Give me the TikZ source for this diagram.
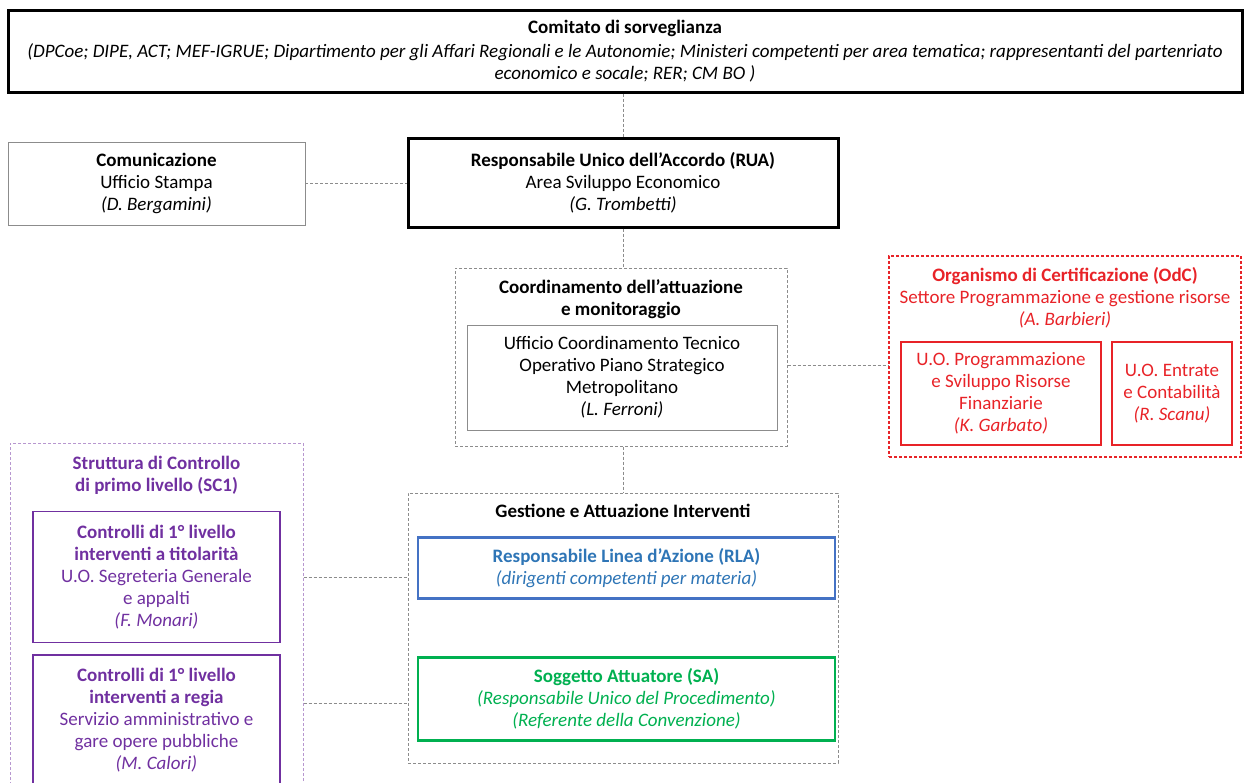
\documentclass[tikz,border=0pt]{standalone}
\usepackage{fontspec}
\setmainfont{Carlito}
\definecolor{odcred}{RGB}{232,35,40}
\definecolor{scpurple}{RGB}{112,48,160}
\definecolor{rlablue}{RGB}{68,114,196}
\definecolor{rlatext}{RGB}{46,117,182}
\definecolor{sagreen}{RGB}{0,176,80}
\definecolor{linkgray}{RGB}{140,140,140}

\begin{document}
\begin{tikzpicture}[x=1pt, y=-1pt,
        box/.style={draw, align=center, inner sep=0pt, font=\fontsize{19}{22}\selectfont},
        thickbox/.style={box, line width=3pt},
        thinbox/.style={box, draw=linkgray, line width=0.8pt},
        dashbox/.style={box, draw=linkgray, line width=1pt, dash pattern=on 3pt off 2pt},
        heading/.style={align=center, inner sep=0pt, font=\fontsize{19}{22}\selectfont},
        link/.style={draw=linkgray, line width=1pt, dash pattern=on 3pt off 2pt}
    ]
    \useasboundingbox (0,0) rectangle (1245,782);
    \clip (0,0) rectangle (1245,782);

    % Comitato di sorveglianza
    \node[thickbox, minimum width=1234pt, minimum height=82pt] (comitato) at (625,51)
        {\textbf{Comitato di sorveglianza}\\[2pt]
         \textit{(DPCoe; DIPE, ACT; MEF-IGRUE; Dipartimento per gli Affari Regionali e le Autonomie; Ministeri competenti per area tematica; rappresentanti del partenriato}\\
         \textit{economico e socale; RER; CM BO )}};

    % RUA and Comunicazione
    \node[thickbox, minimum width=430pt, minimum height=89pt] (rua) at (623,182.5)
        {\textbf{Responsabile Unico dell'Accordo (RUA)}\\Area Sviluppo Economico\\\textit{(G. Trombetti)}};
    \node[thinbox, minimum width=297pt, minimum height=83pt] (comunicazione) at (156.5,183.5)
        {\textbf{Comunicazione}\\Ufficio Stampa\\\textit{(D. Bergamini)}};

    % Coordinamento
    \node[dashbox, minimum width=332pt, minimum height=178pt] (coord) at (621,357) {};
    \node[heading] (coordtitle) at (621,299)
        {\textbf{Coordinamento dell'attuazione}\\\textbf{e monitoraggio}};
    \node[thinbox, minimum width=310pt, minimum height=105pt] (coordint) at (622,377.5)
        {Ufficio Coordinamento Tecnico\\Operativo Piano Strategico\\Metropolitano\\\textit{(L. Ferroni)}};

    % Organismo di Certificazione
    \node[dashbox, draw=odcred, line width=1.3pt, minimum width=352pt, minimum height=201pt] (odc) at (1065,356.5) {};
    \node[heading, text=odcred] (odctitle) at (1065,298)
        {\textbf{Organismo di Certificazione (OdC)}\\Settore Programmazione e gestione risorse\\\textit{(A. Barbieri)}};
    \node[box, draw=odcred, text=odcred, line width=1.2pt, minimum width=200pt, minimum height=103pt] (odcprog) at (1001,393.5)
        {U.O. Programmazione\\e Sviluppo Risorse\\Finanziarie\\\textit{(K. Garbato)}};
    \node[box, draw=odcred, text=odcred, line width=1.2pt, minimum width=120pt, minimum height=103pt] (odcentr) at (1172,393.5)
        {U.O. Entrate\\e Contabilità\\\textit{(R. Scanu)}};

    % Gestione e Attuazione Interventi
    \node[dashbox, minimum width=430pt, minimum height=270pt] (gestione) at (623,628) {};
    \node[heading] (gesttitle) at (623,511) {\textbf{Gestione e Attuazione Interventi}};
    \node[box, draw=rlablue, text=rlatext, line width=2.5pt, minimum width=417pt, minimum height=61pt] (rla) at (626.5,568)
        {\textbf{Responsabile Linea d'Azione (RLA)}\\\textit{(dirigenti competenti per materia)}};
    \node[box, draw=sagreen, text=sagreen, line width=2.5pt, minimum width=417pt, minimum height=83pt] (sa) at (626.5,699)
        {\textbf{Soggetto Attuatore (SA)}\\\textit{(Responsabile Unico del Procedimento)}\\\textit{(Referente della Convenzione)}};

    % Struttura di Controllo
    \node[dashbox, draw=scpurple!50, minimum width=293pt, minimum height=350pt] (sc1) at (156.5,618) {};
    \node[heading, text=scpurple] (sctitle) at (156.5,475)
        {\textbf{Struttura di Controllo}\\\textbf{di primo livello (SC1)}};
    \node[box, draw=scpurple, text=scpurple, line width=1.5pt, minimum width=247pt, minimum height=131pt] (sctit) at (156.5,577)
        {\textbf{Controlli di 1° livello}\\\textbf{interventi a titolarità}\\U.O. Segreteria Generale\\e appalti\\\textit{(F. Monari)}};
    \node[box, draw=scpurple, text=scpurple, line width=1.5pt, minimum width=247pt, minimum height=130pt] (screg) at (156.5,720)
        {\textbf{Controlli di 1° livello}\\\textbf{interventi a regia}\\Servizio amministrativo e\\gare opere pubbliche\\\textit{(M. Calori)}};

    % Connections
    \coordinate (odclink) at (0,365);
    \coordinate (reglink) at (0,703);
    \draw[link] (comitato.south -| rua.north) -- (rua.north);
    \draw[link] (comunicazione.east) -- (comunicazione.east -| rua.west);
    \draw[link] (rua.south) -- (rua.south |- coord.north);
    \draw[link] (coord.east |- odclink) -- (odc.west |- odclink);
    \draw[link] (gestione.north |- coord.south) -- (gestione.north);
    \draw[link] (sc1.east |- sctit.east) -- (gestione.west |- sctit.east);
    \draw[link] (sc1.east |- reglink) -- (gestione.west |- reglink);
\end{tikzpicture}
\end{document}
